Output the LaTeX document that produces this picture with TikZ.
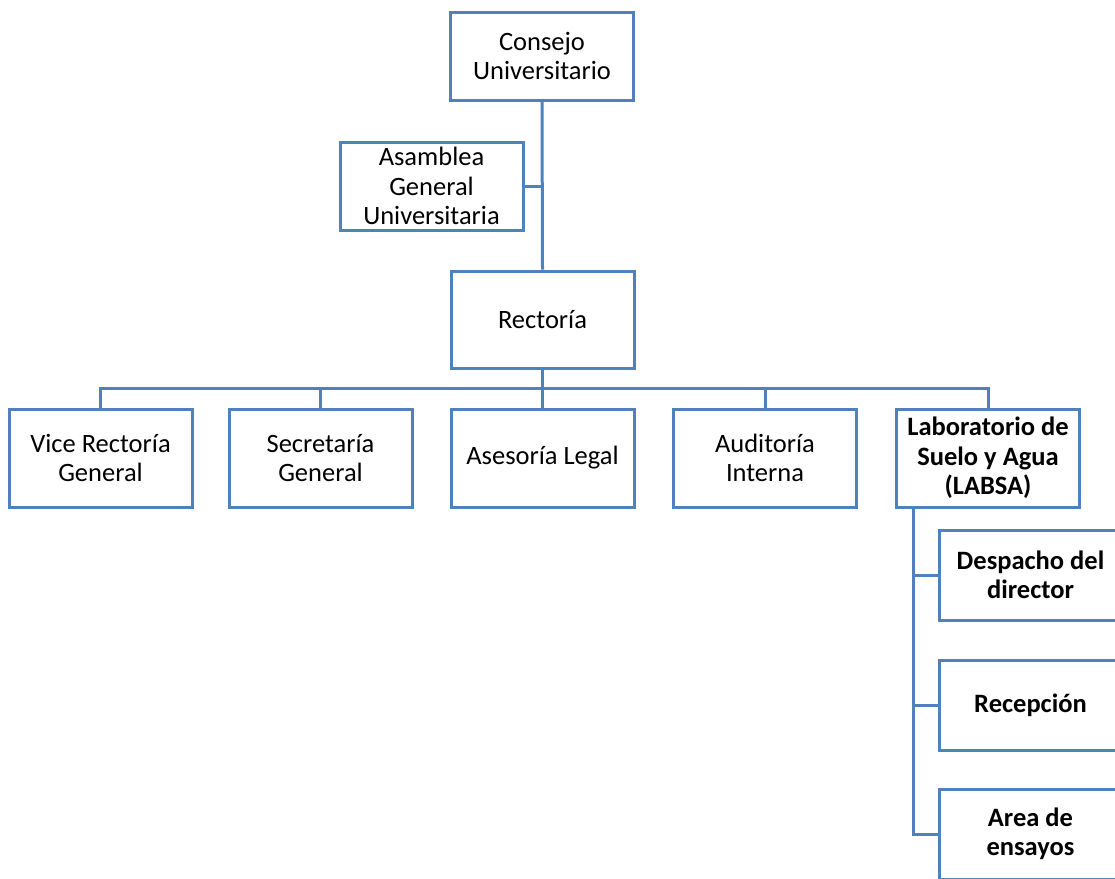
\documentclass[tikz,border=0pt]{standalone}
\usepackage{fontspec}
\setmainfont{Carlito}
\definecolor{orgblue}{HTML}{4F81BD}
\begin{document}
\begin{tikzpicture}[x=1pt,y=-1pt,
  unit/.style={draw=orgblue, line width=3pt, fill=white, align=center,
    inner sep=2pt, minimum width=183pt, minimum height=98pt,
    font=\fontsize{26.5}{29.5}\selectfont},
  topunit/.style={unit, minimum height=88pt},
  subunit/.style={unit, minimum height=90pt, font=\fontsize{26.5}{29.5}\selectfont\bfseries},
  link/.style={draw=orgblue, line width=3pt}]
\useasboundingbox (0,0) rectangle (1115,878);
\clip (0,0) rectangle (1115,878);

% governing bodies
\node[topunit] (consejo) at (542,56) {Consejo\\Universitario};
\node[topunit] (asamblea) at (431.5,186) {Asamblea\\General\\Universitaria};
\node[unit, minimum height=97pt] (rectoria) at (542.5,319.5) {Rectoría};

% units reporting to the rector
\node[unit] (vice) at (100.5,458) {Vice Rectoría\\General};
\node[unit] (secre) at (320.5,458) {Secretaría\\General};
\node[unit] (legal) at (542.5,458) {Asesoría Legal};
\node[unit] (audit) at (765,458) {Auditoría\\Interna};
\node[unit, font=\fontsize{26.5}{29.5}\selectfont\bfseries] (labsa) at (988,458) {Laboratorio de\\Suelo y Agua\\(LABSA)};

% LABSA sections
\node[subunit] (despacho) at (1030.5,575) {Despacho del\\director};
\node[subunit] (recep) at (1030.5,705) {Recepción};
\node[subunit] (ensayos) at (1030.5,834) {Area de\\ensayos};

% connectors
\draw[link] (consejo.south) -- (rectoria.north);
\draw[link] (asamblea.east) -- (asamblea.east -| consejo.south);
\coordinate (bus) at (542.5,388.5);
\draw[link] (rectoria.south) -- (bus);
\draw[link] (vice.north) |- (bus) -| (labsa.north);
\draw[link] (secre.north) -- (secre.north |- bus);
\draw[link] (legal.north) -- (legal.north |- bus);
\draw[link] (audit.north) -- (audit.north |- bus);
\coordinate (trunk) at (913,507);
\draw[link] (trunk) |- (ensayos.west);
\draw[link] (trunk |- despacho.west) -- (despacho.west);
\draw[link] (trunk |- recep.west) -- (recep.west);
\end{tikzpicture}
\end{document}
